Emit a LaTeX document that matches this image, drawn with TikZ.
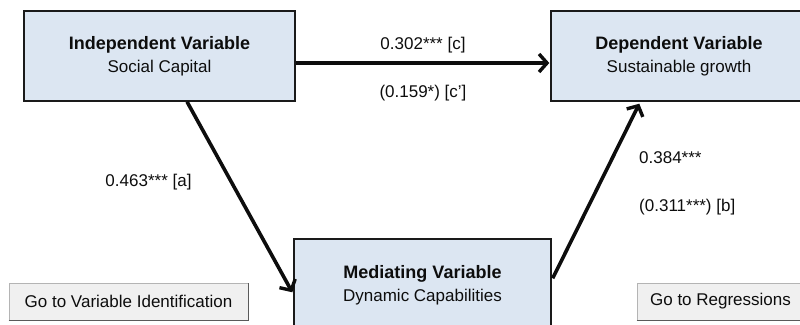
\documentclass[tikz,border=0pt]{standalone}
\usepackage{fontspec}
\setmainfont{Liberation Sans}
\usetikzlibrary{arrows.meta,calc}
\definecolor{boxfill}{HTML}{DCE6F2}
\definecolor{boxline}{HTML}{1A1A1A}
\definecolor{btnfill}{HTML}{F0F0F0}
\definecolor{btnline}{HTML}{B4B4B4}
\definecolor{btnshade}{HTML}{5A5A5A}
\definecolor{ink}{HTML}{0D0D0D}
\tikzset{
  varbox/.style={draw=boxline, line width=1.4pt, fill=boxfill, text=ink,
    align=center, inner sep=0pt, font=\fontsize{17}{23}\selectfont},
  btnbox/.style={fill=btnfill, draw=btnline, line width=0.8pt, text=ink,
    inner sep=0pt, font=\fontsize{17}{20}\selectfont},
  path/.style={line width=3.6pt, ink,
    -{Straight Barb[length=8pt,width=18pt,line width=3.4pt]}},
  coef/.style={text=ink, inner sep=0pt, font=\fontsize{17}{20}\selectfont}
}
\begin{document}
\begin{tikzpicture}[x=1pt,y=-1pt]
\useasboundingbox (0,0) rectangle (800,324);
\clip (0,0) rectangle (800,324);

% variable boxes
\node[varbox, minimum width=271pt, minimum height=90pt] (ind) at (159.5,56)
  {\fontsize{18}{23}\selectfont\bfseries Independent Variable\\Social Capital};
\node[varbox, minimum width=256pt, minimum height=90pt] (dep) at (679,56)
  {\fontsize{18}{23}\selectfont\bfseries Dependent Variable\\Sustainable growth};
\node[varbox, minimum width=257pt, minimum height=92pt] (med) at (422.5,285)
  {\fontsize{18}{23}\selectfont\bfseries Mediating Variable\\Dynamic Capabilities};

% buttons
\node[btnbox, minimum width=239pt, minimum height=37pt] (btnvar) at (128.5,301.5)
  {Go to Variable Identification};
\draw[btnshade, line width=1.2pt] (btnvar.south west) -- (btnvar.south east) -- (btnvar.north east);
\node[btnbox, minimum width=167pt, minimum height=37pt] (btnreg) at (720.5,301.5)
  {Go to Regressions};
\draw[btnshade, line width=1.2pt] (btnreg.south west) -- (btnreg.south east) -- (btnreg.north east);

% paths
\draw[path] ($(ind.east)+(0,7)$) -- ($(dep.west)+(-1,7)$);
\draw[path] ($(ind.south west)!0.601!(ind.south east)$) -- ($(med.north west)+(-1,54)$);
\draw[path] ($(med.north east)+(1,40)$) -- ($(dep.south west)+(89,2)$);

% coefficients
\node[coef] (cval) at (423,45) {0.302*** [c]};
\node[coef] (cpval) at (423,93) {(0.159*) [c']};
\node[coef] (aval) at (148.5,182) {0.463*** [a]};
\node[coef, anchor=west] (bval) at (639,158) {0.384***};
\node[coef, anchor=west] (bpval) at (639,207) {(0.311***) [b]};
\end{tikzpicture}
\end{document}
